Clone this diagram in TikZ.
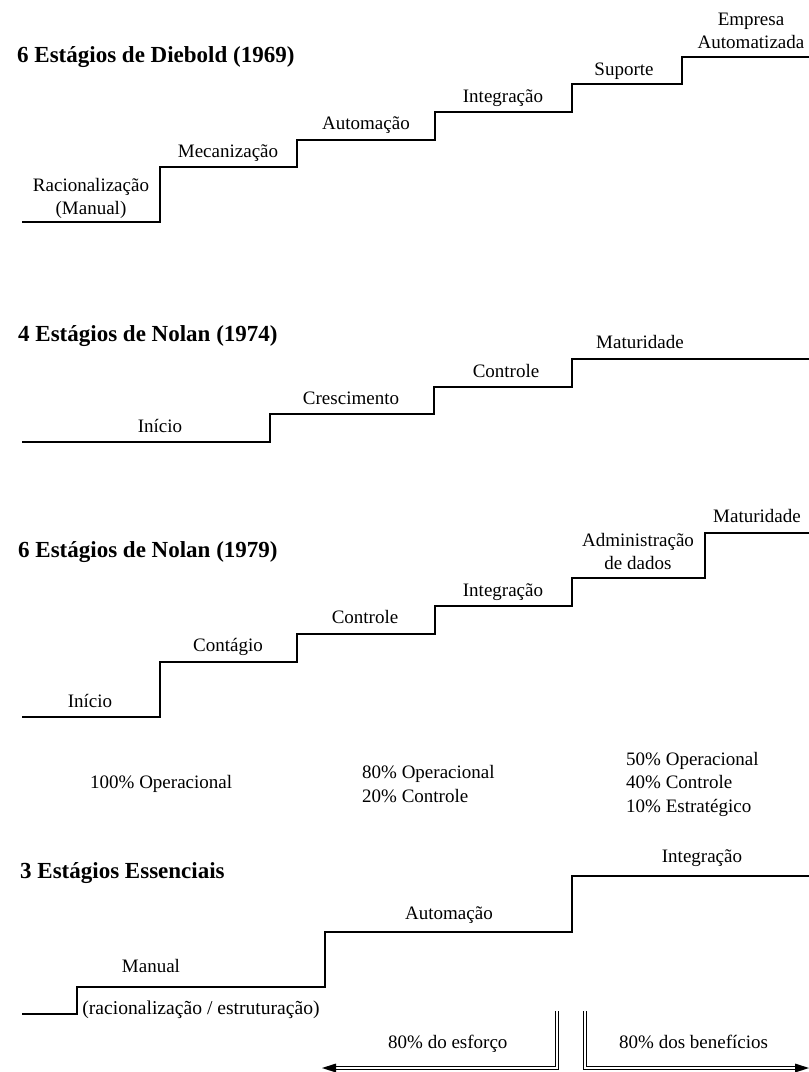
\documentclass[tikz,border=0pt]{standalone}
\usepackage{fontspec}
\setmainfont{Liberation Serif}

\begin{document}
\begin{tikzpicture}[x=1pt,y=-1pt,
  stair/.style={line width=1.2pt, line join=miter},
  lbl/.style={font=\fontsize{19}{23}\selectfont, inner sep=0pt, anchor=base, align=center},
  ttl/.style={font=\fontsize{23}{27}\selectfont\bfseries, inner sep=0pt, anchor=base west},
  pct/.style={font=\fontsize{19}{23.5}\selectfont, inner sep=0pt, anchor=base west, align=left},
  dbl/.style={double, double distance=2pt, line width=1pt, line join=miter},
  tip/.style={fill=black}
]
\useasboundingbox (0,0) rectangle (809,1072);

% ---- Diebold (1969): six steps
% (multi-line labels are placed by the baseline of their last line)
\node[ttl] (t1) at (17,62) {6 Estágios de Diebold (1969)};
\draw[stair] (22,222) -| (160,167) -| (297,140) -| (435,112) -| (572,84) -| (682,57) -- (809,57);
\node[lbl] (d1) at (91,214) {Racionalização\\(Manual)};
\node[lbl] (d2) at (228,157) {Mecanização};
\node[lbl] (d3) at (366,129) {Automação};
\node[lbl] (d4) at (503,102) {Integração};
\node[lbl] (d5) at (624,75) {Suporte};
\node[lbl] (d6) at (751,48) {Empresa\\Automatizada};

% ---- Nolan (1974): four steps
\node[ttl] (t2) at (18,341) {4 Estágios de Nolan (1974)};
\draw[stair] (22,442) -| (270,414) -| (434,387) -| (572,359) -- (809,359);
\node[lbl] (n1) at (160,432) {Início};
\node[lbl] (n2) at (351,404) {Crescimento};
\node[lbl] (n3) at (506,377) {Controle};
\node[lbl] (n4) at (640,348) {Maturidade};

% ---- Nolan (1979): six steps
\node[ttl] (t3) at (18,557) {6 Estágios de Nolan (1979)};
\draw[stair] (22,717) -| (160,662) -| (297,634) -| (435,606) -| (572,578) -| (705,533) -- (809,533);
\node[lbl] (m1) at (90,707) {Início};
\node[lbl] (m2) at (228,651) {Contágio};
\node[lbl] (m3) at (365,623) {Controle};
\node[lbl] (m4) at (503,596) {Integração};
\node[lbl] (m5) at (638,569) {Administração\\de dados};
\node[lbl] (m6) at (757,522) {Maturidade};

% ---- shares of each phase
\node[pct] (p1) at (90,788) {100\% Operacional};
\node[pct] (p2) at (362,802) {80\% Operacional\\20\% Controle};
\node[pct] (p3) at (626,812) {50\% Operacional\\40\% Controle\\10\% Estratégico};

% ---- three essential stages
\node[ttl] (t4) at (20,878) {3 Estágios Essenciais};
\draw[stair] (22,1014) -| (77,987) -| (325,932) -| (572,876) -- (809,876);
\node[lbl] (e1) at (151,972) {Manual};
\node[lbl, font=\fontsize{19.6}{23}\selectfont] (e2) at (201,1014) {(racionalização / estruturação)};
\node[lbl] (e3) at (449,919) {Automação};
\node[lbl] (e4) at (702,862) {Integração};

% ---- effort and benefit arrows
\coordinate (effTop) at (557,1011);
\coordinate (effTip) at (322,1068);
\coordinate (benTop) at (585,1011);
\coordinate (benTip) at (809,1068);
\draw[dbl] (effTop) |- ([xshift=12pt]effTip);
\fill[tip] (effTip) -- ++(14,-4.5) -- ++(0,9) -- cycle;
\draw[dbl] (benTop) |- ([xshift=-12pt]benTip);
\fill[tip] (benTip) -- ++(-14,-4.5) -- ++(0,9) -- cycle;
\node[pct] (a1) at (388,1048) {80\% do esforço};
\node[pct] (a2) at (619,1048) {80\% dos benefícios};
\end{tikzpicture}
\end{document}
